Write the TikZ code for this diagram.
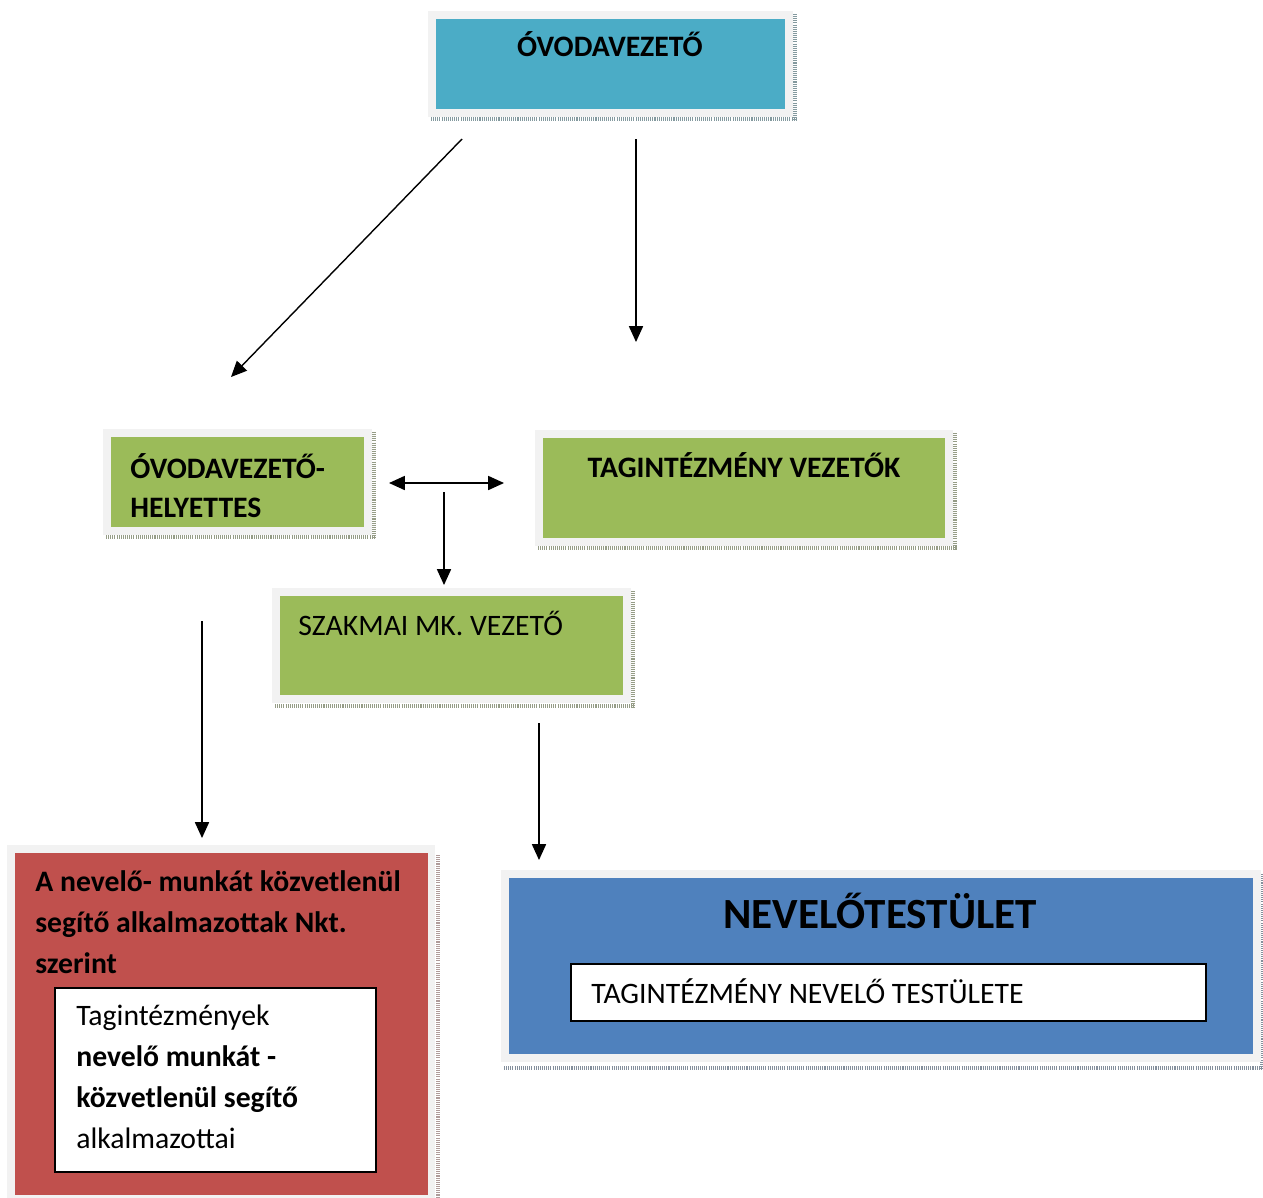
\documentclass[tikz,border=0pt]{standalone}
\usepackage{fontspec}
\setmainfont{Carlito}
\usepackage{xcolor}
\usetikzlibrary{calc,arrows.meta}
\definecolor{framegray}{HTML}{F2F2F2}
\definecolor{headblue}{HTML}{4BACC6}
\definecolor{leafgreen}{HTML}{9BBB59}
\definecolor{staffred}{HTML}{C0504D}
\definecolor{boardblue}{HTML}{4F81BD}
\tikzset{
  frame/.style={draw=framegray, line width=4.5pt},
  shade/.style={draw=#1, line width=2.2pt, dash pattern=on 0.6pt off 0.6pt},
  inbox/.style={draw=black, line width=1.1pt, fill=white},
  lab/.style={text=black, inner sep=0pt, align=left, font=\fontsize{16.9}{23.2}\selectfont},
  labb/.style={lab, font=\fontsize{16.9}{23.2}\selectfont\bfseries},
  link/.style={draw=black, line width=0.8pt, -{Triangle[length=9pt,width=8pt]}}
}

\begin{document}
\begin{tikzpicture}[x=0.02cm, y=-0.02cm]
  \useasboundingbox (0,0) rectangle (1263,1197);
  % boxes
  \draw[shade=headblue!40!black!55] (431,119) -- (797,119) (795,14) -- (795,121);
  \draw[frame, fill=headblue] (432,15) rectangle (789,113);
  \draw[shade=leafgreen!40!black!55] (106,537) -- (375,537) (374,432) -- (374,539);
  \draw[frame, fill=leafgreen] (107,433) rectangle (368,531);
  \draw[shade=leafgreen!40!black!55] (538,548) -- (957,548) (955,433) -- (955,550);
  \draw[frame, fill=leafgreen] (539,434) rectangle (949,542);
  \draw[shade=leafgreen!40!black!55] (275,706) -- (634,706) (633,591) -- (633,708);
  \draw[frame, fill=leafgreen] (276,592) rectangle (627,699);
  \draw[shade=staffred!40!black!45] (438,855) -- (438,1200);
  \draw[frame, fill=staffred] (11,849) rectangle (431.5,1199);
  \draw[inbox] (55,988) rectangle (376,1172);
  \draw[shade=boardblue!40!black!55] (504,1068) -- (1265,1068) (1262,874) -- (1262,1070);
  \draw[frame, fill=boardblue] (505,874) rectangle (1257,1058);
  \draw[inbox] (571,964) rectangle (1206,1021);

  % texts (multi-line nodes sit on their last line)
  \node[labb, anchor=base] (head) at (610,56) {ÓVODAVEZETŐ};
  \node[labb, anchor=base west, font=\fontsize{16.9}{22.2}\selectfont\bfseries] (depo) at (130,517) {ÓVODAVEZETŐ-\\HELYETTES};
  \node[labb, anchor=base] (unit) at (744,477) {TAGINTÉZMÉNY VEZETŐK};
  \node[lab, anchor=base west] (prof) at (298,635) {SZAKMAI MK. VEZETŐ};
  \node[labb, anchor=base west] (staff) at (35,973) {A nevelő- munkát közvetlenül\\segítő alkalmazottak Nkt.\\szerint};
  \node[lab, anchor=base west] (unitstaff) at (76,1148) {Tagintézmények\\\textbf{nevelő munkát -}\\\textbf{közvetlenül segítő}\\alkalmazottai};
  \node[labb, anchor=base, font=\fontsize{24.5}{28}\selectfont\bfseries] (board) at (880,928) {NEVELŐTESTÜLET};
  \node[lab, anchor=base west] (unitboard) at (591,1003) {TAGINTÉZMÉNY NEVELŐ TESTÜLETE};

  % connectors
  \coordinate (headSW) at (462,139);
  \coordinate (headS) at (636,139);
  \coordinate (depoIn) at (231,377);
  \coordinate (unitIn) at (636,342);
  \coordinate (pairL) at (389,483);
  \coordinate (pairR) at (504,483);
  \coordinate (pairM) at (444,492);
  \coordinate (profIn) at (444,585);
  \coordinate (depoOut) at (202,621);
  \coordinate (staffIn) at (202,838);
  \coordinate (profOut) at (539,723);
  \coordinate (boardIn) at (539,860);
  \draw[link] (headSW) -- (depoIn);
  \draw[link] (headS) -- (unitIn);
  \draw[link, {Triangle[length=9pt,width=8pt]}-{Triangle[length=9pt,width=8pt]}] (pairL) -- (pairR);
  \draw[link] (pairM) -- (profIn);
  \draw[link] (depoOut) -- (staffIn);
  \draw[link] (profOut) -- (boardIn);
\end{tikzpicture}
\end{document}
